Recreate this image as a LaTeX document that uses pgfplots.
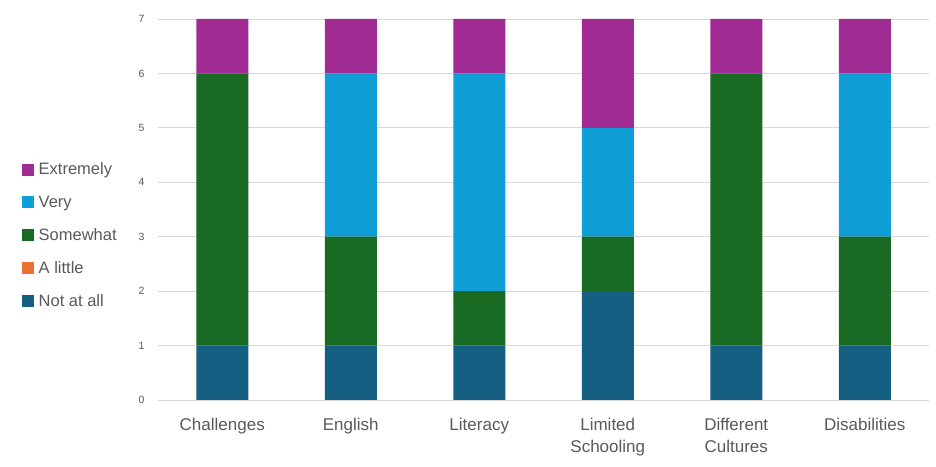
\documentclass[border=0pt]{standalone}
\usepackage{pgfplots}
\pgfplotsset{compat=1.18}
\usepackage{fontspec}
\setmainfont{Liberation Sans}
\definecolor{cNot}{HTML}{156082}
\definecolor{cLittle}{HTML}{E97132}
\definecolor{cSome}{HTML}{196B24}
\definecolor{cVery}{HTML}{0F9ED5}
\definecolor{cExt}{HTML}{A02B93}
\definecolor{txt}{HTML}{595959}
\begin{document}
\begin{tikzpicture}
\useasboundingbox (0,0) rectangle (936bp,467bp);
\begin{axis}[
  at={(158bp,67bp)}, anchor=south west,
  scale only axis,
  width=771bp, height=381bp,
  ybar stacked,
  bar width=52bp,
  xmin=-0.5, xmax=5.5,
  ymin=0, ymax=7,
  ytick={0,1,2,3,4,5,6,7},
  xtick={0,1,2,3,4,5},
  xticklabels={Challenges,English,Literacy,{Limited\\Schooling},{Different\\Cultures},Disabilities},
  xticklabel style={align=center, font=\fontsize{17bp}{22bp}\selectfont, text=txt, yshift=-15bp},
  yticklabel style={font=\fontsize{10.5bp}{12bp}\selectfont, text=txt, xshift=-10bp},
  /pgf/number format/assume math mode=true,
  axis line style={draw=none},
  major tick length=0pt,
  ymajorgrids,
  grid style={draw=black!15, line width=0.8pt},
  reverse legend,
  legend style={at={(-0.177,0.628)}, anchor=north west, draw=none, fill=none,
    font=\fontsize{16.5bp}{19bp}\selectfont, text=txt,
    row sep=15.5bp, inner sep=0pt},
  legend cell align=left,
  legend image code/.code={\fill[#1] (0bp,-6bp) rectangle (12bp,6bp); \path (15bp,0bp);},
]
\addplot+[fill=cNot, draw=none] coordinates {(0,1) (1,1) (2,1) (3,2) (4,1) (5,1)};
\addlegendentry{Not at all}
\addplot+[fill=cLittle, draw=none] coordinates {(0,0) (1,0) (2,0) (3,0) (4,0) (5,0)};
\addlegendentry{A little}
\addplot+[fill=cSome, draw=none] coordinates {(0,5) (1,2) (2,1) (3,1) (4,5) (5,2)};
\addlegendentry{Somewhat}
\addplot+[fill=cVery, draw=none] coordinates {(0,0) (1,3) (2,4) (3,2) (4,0) (5,3)};
\addlegendentry{Very}
\addplot+[fill=cExt, draw=none] coordinates {(0,1) (1,1) (2,1) (3,2) (4,1) (5,1)};
\addlegendentry{Extremely}
\end{axis}
\end{tikzpicture}
\end{document}
